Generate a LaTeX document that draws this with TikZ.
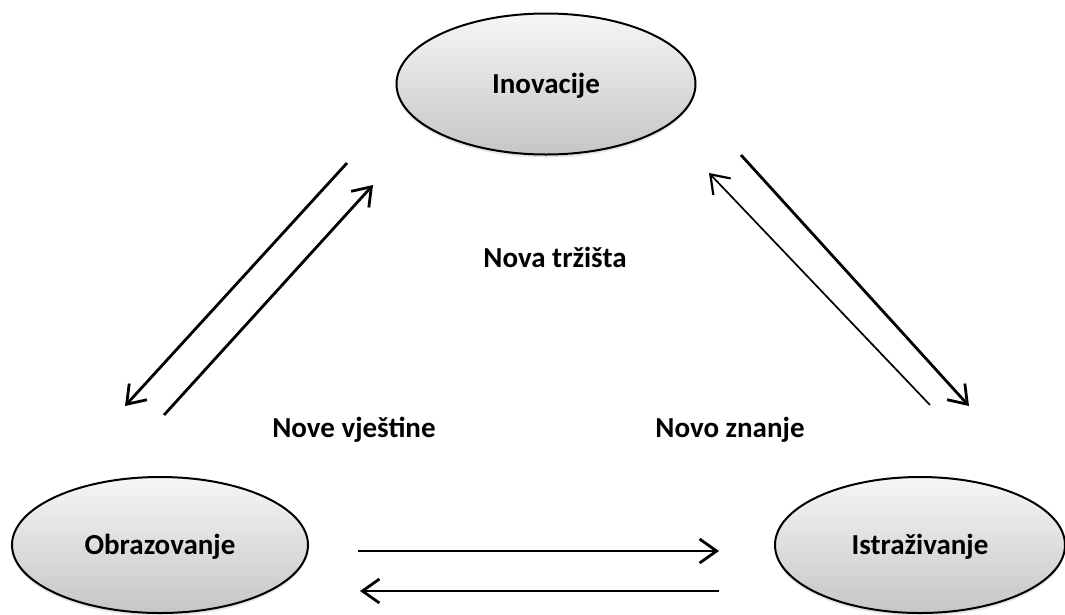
\documentclass[tikz,border=0pt]{standalone}
\usepackage{fontspec}
\setmainfont{Carlito}
\usetikzlibrary{arrows.meta,shapes.geometric,shadows}

\tikzset{
  bubble/.style={ellipse, draw=black, line width=2pt, inner sep=0pt,
    top color=gray!7, bottom color=gray!45,
    drop shadow={opacity=0.2, shadow xshift=0pt, shadow yshift=-3pt},
    font=\fontsize{29}{34}\selectfont\bfseries, text height=19pt, text depth=0pt},
  lbl/.style={font=\fontsize{29}{34}\selectfont\bfseries, anchor=base, inner sep=0pt},
  flow/.style={line width=2.8pt, -{Straight Barb[length=17pt, width=24pt, line width=2.8pt]}},
  thinflow/.style={line width=1.7pt, -{Straight Barb[length=17pt, width=24pt, line width=2.2pt]}}
}

\begin{document}
\begin{tikzpicture}[x=1pt, y=-1pt]
\useasboundingbox (0,0) rectangle (1065,614);

% the three actors
\node[bubble, minimum width=299pt, minimum height=141pt] (ino) at (546,84) {Inovacije};
\node[bubble, minimum width=296pt, minimum height=136pt] (obr) at (160,545) {Obrazovanje};
\node[bubble, minimum width=290pt, minimum height=136pt] (ist) at (920,545) {Istraživanje};

% flow labels
\node[lbl] (trz) at (555,267) {Nova tržišta};
\node[lbl] (vje) at (354,437) {Nove vještine};
\node[lbl] (zna) at (730,437) {Novo znanje};

% arrow end points
\coordinate (a1s) at (347,163); \coordinate (a1e) at (125,406);
\coordinate (a2s) at (164,415); \coordinate (a2e) at (373,185);
\coordinate (b1s) at (741,155); \coordinate (b1e) at (969,406);
\coordinate (b2s) at (930,405); \coordinate (b2e) at (709,173);
\coordinate (c1s) at (358,551); \coordinate (c1e) at (719,551);
\coordinate (c2s) at (719,591); \coordinate (c2e) at (360,591);

% Inovacije <-> Obrazovanje
\draw[flow] (a1s) -- (a1e);
\draw[flow] (a2s) -- (a2e);
% Inovacije <-> Istraživanje
\draw[flow] (b1s) -- (b1e);
\draw[thinflow] (b2s) -- (b2e);
% Obrazovanje <-> Istraživanje
\draw[flow] (c1s) -- (c1e);
\draw[flow] (c2s) -- (c2e);
\end{tikzpicture}
\end{document}
